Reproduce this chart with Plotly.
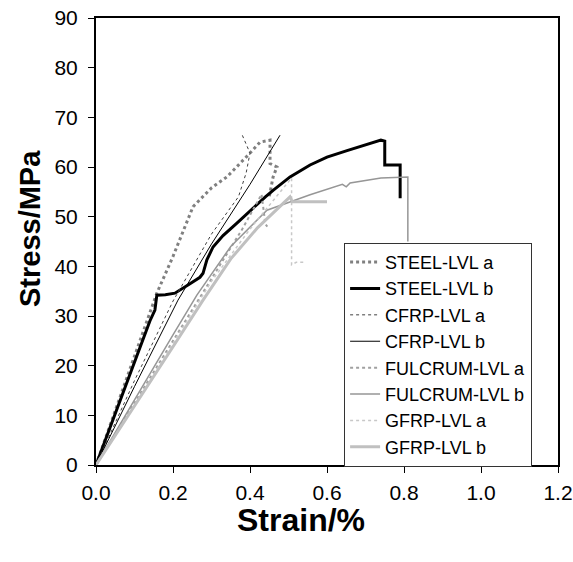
import plotly.graph_objects as go

# strain (%) / stress (MPa)
steel_a_x = [0, 0.05, 0.10, 0.158, 0.20, 0.252, 0.30, 0.34, 0.40, 0.426, 0.452, 0.452, 0.47, 0.46, 0.455, 0.45]
steel_a_y = [0, 11, 22, 34.6, 42, 52, 55.8, 58, 62.8, 65, 65.4, 60.7, 60, 58, 56, 54]

steel_b_x = [0, 0.05, 0.10, 0.14, 0.153, 0.158, 0.18, 0.205, 0.24, 0.27, 0.278, 0.288, 0.304, 0.33, 0.366, 0.421,
             0.44, 0.46, 0.504, 0.556, 0.60, 0.652, 0.70, 0.74, 0.75, 0.75, 0.79, 0.79]
steel_b_y = [0, 10.5, 21, 29, 31.2, 34.2, 34.3, 34.6, 36.3, 37.8, 38.6, 41.3, 43.9, 46.2, 48.7, 52.7,
             54, 55.3, 58, 60.4, 62, 63.3, 64.5, 65.4, 65.2, 60.4, 60.4, 53.7]

cfrp_a_x = [0, 0.10, 0.20, 0.30, 0.37, 0.39, 0.40, 0.38]
cfrp_a_y = [0, 17, 33, 46.5, 54, 58.8, 62.8, 66.4]

cfrp_b_x = [0, 0.10, 0.213, 0.30, 0.40, 0.478]
cfrp_b_y = [0, 15.8, 33.2, 44.5, 56.5, 66.4]

fulcrum_a_x = [0, 0.10, 0.20, 0.30, 0.38, 0.43, 0.435, 0.44, 0.445]
fulcrum_a_y = [0, 12.5, 25, 37.5, 47.5, 54.5, 51, 48.5, 48]

fulcrum_b_x = [0, 0.10, 0.20, 0.262, 0.35, 0.444, 0.556, 0.64, 0.65, 0.66, 0.74, 0.81, 0.81]
fulcrum_b_y = [0, 13.2, 26.2, 34.2, 44, 51.3, 54.4, 56.5, 56, 56.8, 57.8, 58, 45]

gfrp_a_x = [0, 0.10, 0.20, 0.30, 0.40, 0.508, 0.508, 0.52, 0.54]
gfrp_a_y = [0, 12, 24.5, 37, 47.5, 57.8, 40.3, 40.8, 40.8]

gfrp_b_x = [0, 0.10, 0.20, 0.278, 0.35, 0.42, 0.504, 0.51, 0.60]
gfrp_b_y = [0, 11.8, 23.8, 33.2, 41.5, 47.8, 54, 53, 53]

series = [
    ("STEEL-LVL a", steel_a_x, steel_a_y, "#808080", 3, "dot"),
    ("STEEL-LVL b", steel_b_x, steel_b_y, "#000000", 3, "solid"),
    ("CFRP-LVL a", cfrp_a_x, cfrp_a_y, "#404040", 1, "dot"),
    ("CFRP-LVL b", cfrp_b_x, cfrp_b_y, "#000000", 1, "solid"),
    ("FULCRUM-LVL a", fulcrum_a_x, fulcrum_a_y, "#a0a0a0", 2, "dot"),
    ("FULCRUM-LVL b", fulcrum_b_x, fulcrum_b_y, "#969696", 1.5, "solid"),
    ("GFRP-LVL a", gfrp_a_x, gfrp_a_y, "#c8c8c8", 1.5, "dot"),
    ("GFRP-LVL b", gfrp_b_x, gfrp_b_y, "#c0c0c0", 3, "solid"),
]

fig = go.Figure()
for name, xs, ys, col, w, dash in series:
    fig.add_trace(go.Scatter(x=xs, y=ys, mode="lines", name=name,
                             line=dict(color=col, width=w, dash=dash)))

font = "Liberation Sans, Arial, sans-serif"
fig.update_layout(
    width=573, height=562,
    margin=dict(l=96, r=15, t=18, b=97),
    plot_bgcolor="white", paper_bgcolor="white",
    font=dict(family=font, size=21, color="black"),
    legend=dict(x=0.537, y=0.497, xanchor="left", yanchor="top",
                bgcolor="white", bordercolor="#333333", borderwidth=1,
                font=dict(family=font, size=18, color="black"),
                tracegroupgap=0),
    showlegend=True,
)
fig.update_xaxes(range=[0, 1.2], dtick=0.2, tickformat=".1f", automargin=False,
                 showline=True, mirror=True, linecolor="black", linewidth=2,
                 ticks="outside", ticklen=6, tickcolor="black", ticklabelstandoff=2,
                 ticklabeloverflow="allow", showgrid=False, zeroline=False)
fig.update_yaxes(range=[0, 90], dtick=10, automargin=False,
                 showline=True, mirror=True, linecolor="black", linewidth=2,
                 ticks="outside", ticklen=6, tickcolor="black", ticklabelstandoff=6,
                 ticklabeloverflow="allow", showgrid=False, zeroline=False)

# axis titles sit a little off-centre in the original, so place them directly
fig.add_annotation(text="<b>Strain/%</b>", xref="paper", yref="paper", x=0.444, y=-0.123,
                   showarrow=False, font=dict(size=32), xanchor="center", yanchor="middle")
fig.add_annotation(text="<b>Stress/MPa</b>", xref="paper", yref="paper", x=-0.143, y=0.53,
                   textangle=-90, showarrow=False, font=dict(size=29),
                   xanchor="center", yanchor="middle")

# drop the default 8px page margin so the figure fills the window
fig.write_html("out.html", config={"displayModeBar": False},
               post_script="document.body.style.margin='0';")
